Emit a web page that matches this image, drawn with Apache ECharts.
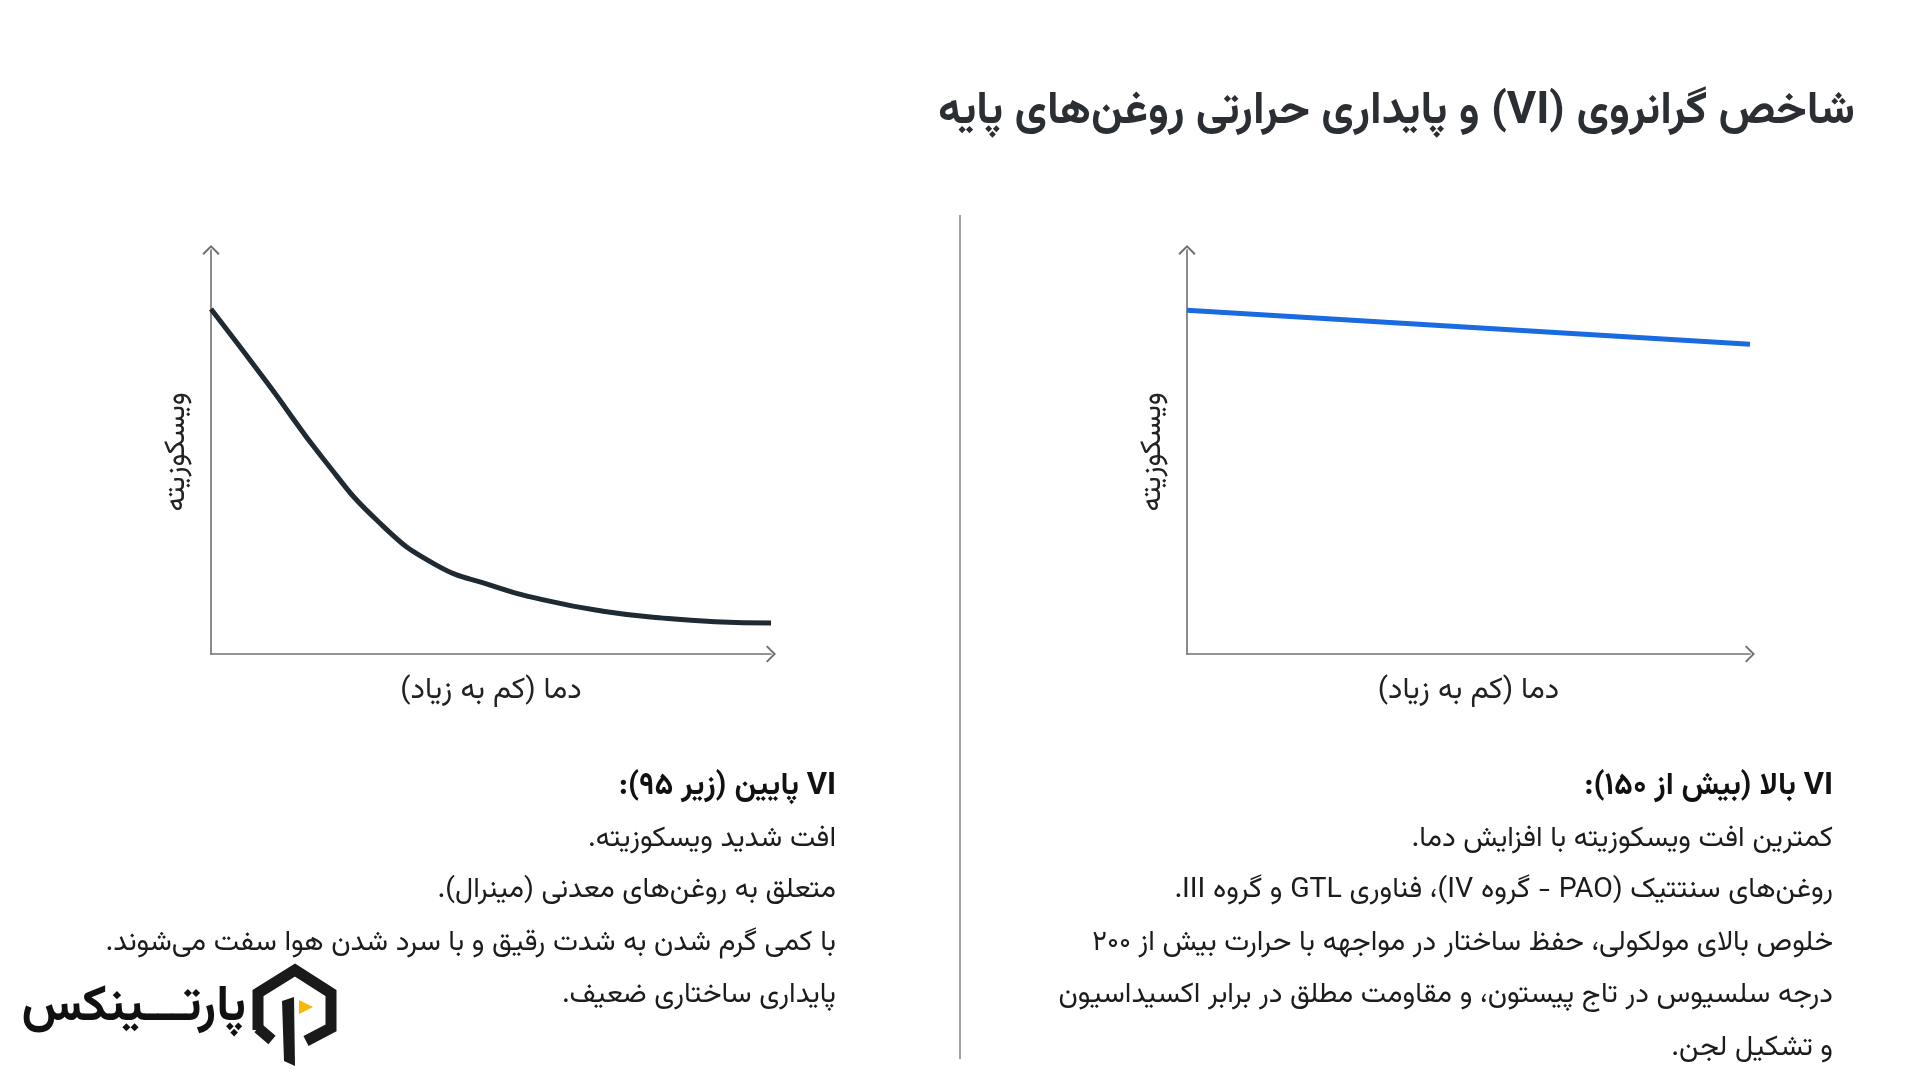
<!DOCTYPE html>
<html>
<head>
<meta charset="utf-8">
<script src="https://cdn.jsdelivr.net/npm/echarts@6/dist/echarts.min.js"></script>
<style>
html,body{margin:0;padding:0;background:#fff;}
#chart{width:1920px;height:1080px;direction:rtl;}
</style>
</head>
<body>
<div id="chart" dir="rtl"></div>
<script>
// ---- data ----
const chartTitle = 'شاخص گرانروی (VI) و پایداری حرارتی روغن\u200cهای پایه';
const xAxisName = 'دما (کم به زیاد)';
const yAxisName = 'ویسکوزیته';

// low VI (left panel) – relative temperature (%) vs relative viscosity (%)
const lowViTemp = [0, 10, 20, 30, 40, 50, 60, 70, 80, 90, 100];
const lowViVisc = [85.4, 67.2, 48.4, 32.6, 22.2, 17.0, 13.2, 10.6, 9.0, 8.0, 7.7];

// high VI (right panel)
const highViTemp = [0, 100];
const highViVisc = [85.1, 76.7];

const highViText = [
  'VI بالا (بیش از ۱۵۰):',
  'کمترین افت ویسکوزیته با افزایش دما.',
  'روغن\u200cهای سنتتیک (PAO - گروه IV)، فناوری GTL و گروه III.',
  'خلوص بالای مولکولی، حفظ ساختار در مواجهه با حرارت بیش از ۲۰۰',
  'درجه سلسیوس در تاج پیستون، و مقاومت مطلق در برابر اکسیداسیون',
  'و تشکیل لجن.'
];
const lowViText = [
  'VI پایین (زیر ۹۵):',
  'افت شدید ویسکوزیته.',
  'متعلق به روغن\u200cهای معدنی (مینرال).',
  'با کمی گرم شدن به شدت رقیق و با سرد شدن هوا سفت می\u200cشوند.',
  'پایداری ساختاری ضعیف.'
];
const logoText = 'پارتـــینکس';

// ---- chart ----
const FONT = '"Vazirmatn","Noto Sans Arabic","DejaVu Sans",sans-serif';
const chevron = 'path://M10,0 L20,10 L18.4,11.6 L10,3.2 L1.6,11.6 L0,10 Z';
const axisLineStyle = {color: '#707070', width: 1.6};

function makeX(idx) {
  return {
    type: 'value', gridIndex: idx, min: 0, max: 100,
    name: xAxisName, nameLocation: 'middle', nameGap: 24,
    nameTextStyle: {fontFamily: FONT, fontSize: 30, color: '#222'},
    axisLine: {show: true, lineStyle: axisLineStyle, symbol: ['none', chevron], symbolSize: [18, 10], symbolOffset: [0, 0]},
    axisTick: {show: false}, axisLabel: {show: false}, splitLine: {show: false}
  };
}
function makeY(idx) {
  return {
    type: 'value', gridIndex: idx, min: 0, max: 100,
    name: yAxisName, nameLocation: 'middle', nameGap: 17, nameRotate: 90,
    nameTextStyle: {fontFamily: FONT, fontSize: 29, color: '#222'},
    axisLine: {show: true, lineStyle: axisLineStyle, symbol: ['none', chevron], symbolSize: [18, 10], symbolOffset: [0, 0]},
    axisTick: {show: false}, axisLabel: {show: false}, splitLine: {show: false}
  };
}

const graphics = [];
graphics.push({
  type: 'text', style: {
    text: chartTitle, x: 1855, y: 116, align: 'right', verticalAlign: 'middle',
    font: 'bold 45px ' + FONT, fill: '#2b2f33'
  }
});
graphics.push({
  type: 'line', shape: {x1: 960, y1: 215, x2: 960, y2: 1059},
  style: {stroke: '#8a8a8a', lineWidth: 1.6}
});
const lineYs = [789, 842, 893, 946, 998, 1051];
highViText.forEach(function (t, i) {
  graphics.push({type: 'text', style: {
    text: t, x: 1833, y: lineYs[i], align: 'right', verticalAlign: 'middle',
    font: (i === 0 ? 'bold 31px ' : '28.5px ') + FONT, fill: i === 0 ? '#111' : '#1c1c1c'
  }});
});
lowViText.forEach(function (t, i) {
  graphics.push({type: 'text', style: {
    text: t, x: 836, y: lineYs[i], align: 'right', verticalAlign: 'middle',
    font: (i === 0 ? 'bold 31px ' : '28.5px ') + FONT, fill: i === 0 ? '#111' : '#1c1c1c'
  }});
});
// logo
graphics.push({type: 'polyline', shape: {points: [[258, 1030], [258, 993], [295, 970], [331, 993], [331, 1028], [306, 1041]]},
  style: {stroke: '#1a1a1a', lineWidth: 11, fill: null, lineJoin: 'miter'}});
graphics.push({type: 'polyline', shape: {points: [[258, 1028], [272, 1040]]},
  style: {stroke: '#1a1a1a', lineWidth: 11, fill: null}});
graphics.push({type: 'polygon', shape: {points: [[282, 1001], [294, 997], [295, 1066], [284, 1061]]},
  style: {fill: '#1a1a1a'}});
graphics.push({type: 'polygon', shape: {points: [[299, 1000], [313, 1007], [299, 1014]]},
  style: {fill: '#f6b800'}});
graphics.push({type: 'text', style: {
  text: logoText, x: 246, y: 1012, align: 'right', verticalAlign: 'middle',
  font: 'bold 50px ' + FONT, fill: '#111'
}});

const option = {
  backgroundColor: '#ffffff',
  animation: false,
  grid: [
    {left: 211, top: 250, width: 560, height: 404},
    {left: 1187, top: 250, width: 563, height: 404}
  ],
  xAxis: [makeX(0), makeX(1)],
  yAxis: [makeY(0), makeY(1)],
  series: [
    {
      type: 'line', xAxisIndex: 0, yAxisIndex: 0, smooth: 0.5, symbol: 'none',
      lineStyle: {color: '#1f2a33', width: 5},
      data: lowViTemp.map(function (x, i) { return [x, lowViVisc[i]]; })
    },
    {
      type: 'line', xAxisIndex: 1, yAxisIndex: 1, symbol: 'none',
      lineStyle: {color: '#1a6be0', width: 5},
      data: highViTemp.map(function (x, i) { return [x, highViVisc[i]]; })
    }
  ],
  graphic: graphics
};

const chart = echarts.init(document.getElementById('chart'), null, {renderer: 'canvas'});
chart.setOption(option);
</script>
</body>
</html>
